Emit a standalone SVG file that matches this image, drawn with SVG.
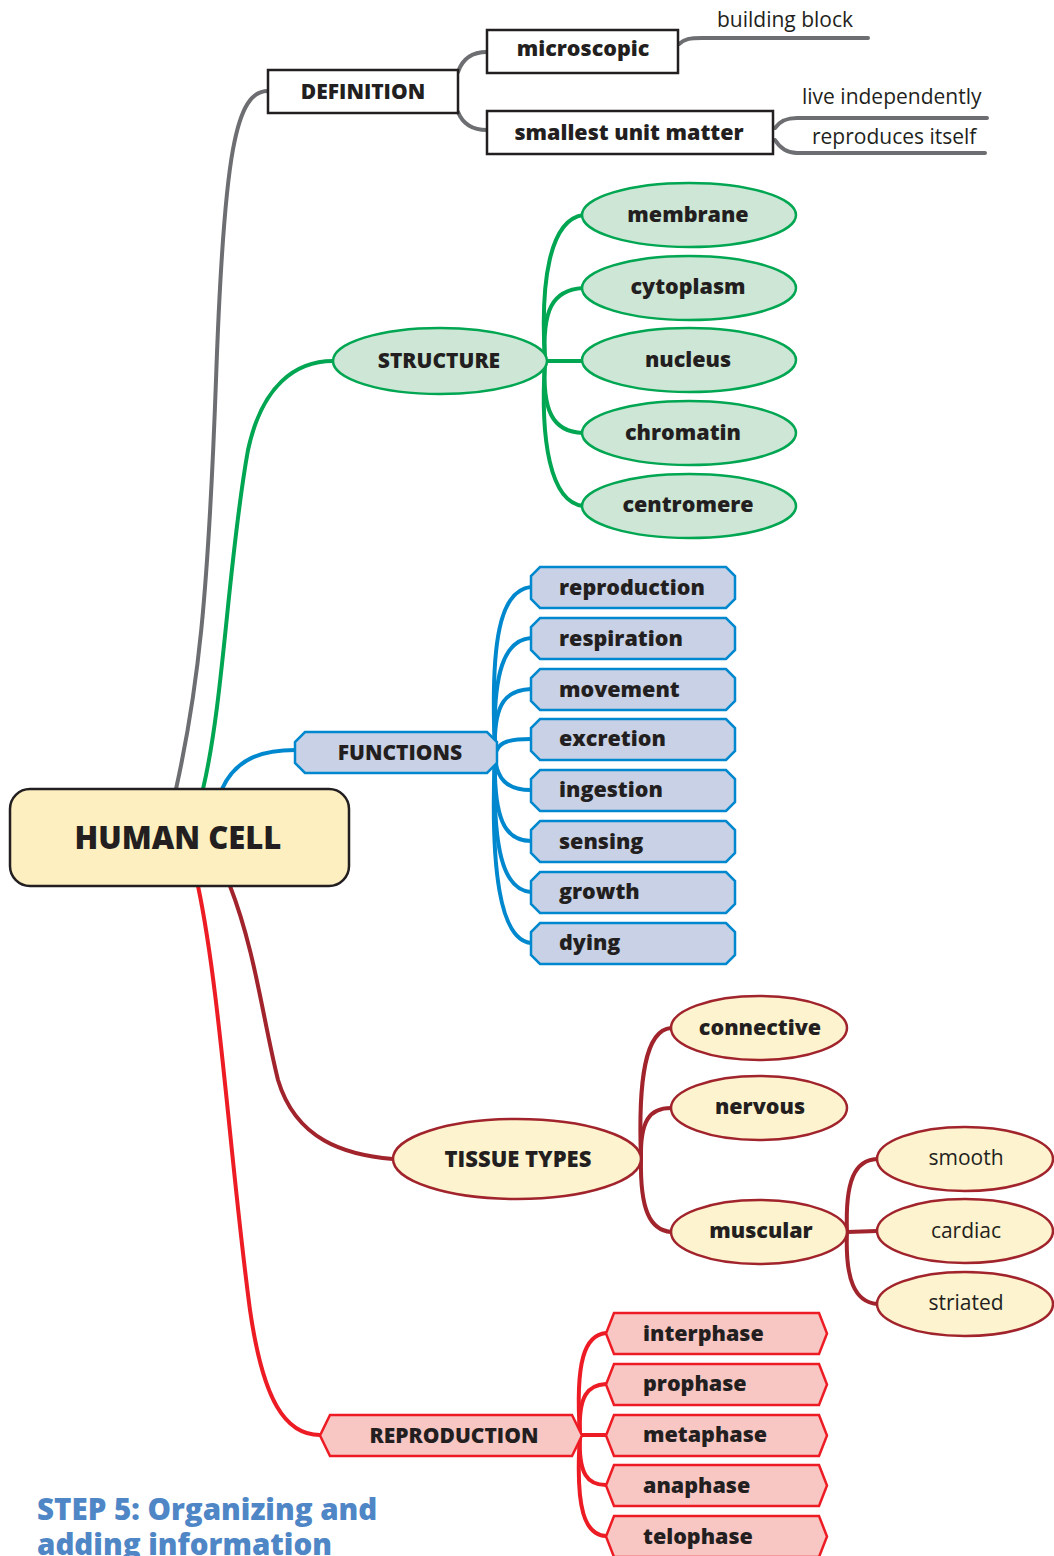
<svg xmlns="http://www.w3.org/2000/svg" width="1054" height="1556" viewBox="0 0 1054 1556">
  <style>
    .lbl { font-family: "Open Sans", "DejaVu Sans", sans-serif; font-weight: 800; fill: #231f20; font-size: 21.5px; }
    .cap { font-size: 21px; }
    .reg { font-family: "Open Sans", "DejaVu Sans", sans-serif; font-weight: 400; fill: #231f20; font-size: 21px; }
    .c { text-anchor: middle; }
    .con { fill: none; stroke-linecap: round; stroke-width: 4; }
    .gray { stroke: #6d6e71; }
    .green { stroke: #00a651; }
    .blue { stroke: #0088cf; }
    .dred { stroke: #a1232b; }
    .red { stroke: #ed1c24; }
    .box { fill: #ffffff; stroke: #231f20; stroke-width: 2.5; }
    .gEl { fill: #cde6d5; stroke: #00a651; stroke-width: 2.5; }
    .bHex { fill: #c8d1e5; stroke: #0088cf; stroke-width: 2.5; }
    .yEl { fill: #fdf3cf; stroke: #a1232b; stroke-width: 2.5; }
    .rHex { fill: #f8c6c3; stroke: #ed1c24; stroke-width: 2.5; }
  </style>
  <defs>
    <path id="octo" d="M9,0 H195 L204,9 V32 L195,41 H9 L0,32 V9 Z"/>
    <path id="chev" d="M8,0 H213 L221,20.5 L213,41 H8 L0,20.5 Z"/>
  </defs>

  <!-- connectors -->
  <g id="connectors">
    <!-- main branches -->
    <path class="con gray" d="M176,789 C198,690 208,600 216,380 C224,150 236,91 268,91"/>
    <path class="con green" d="M203,789 C224,700 228,560 248,450 C262,385 296,361 333,361"/>
    <path class="con blue" d="M222,789 C235,760 260,750 295,750"/>
    <path class="con dred" d="M230,886 C255,950 263,1020 278,1080 C296,1140 345,1155 393,1159"/>
    <path class="con red" d="M198,886 C220,990 230,1160 250,1310 C263,1400 285,1435 320,1435"/>

    <!-- definition -->
    <path class="con gray" stroke-width="5" d="M458,72 C462,60 470,52 487,52"/>
    <path class="con gray" stroke-width="5" d="M458,112 C462,122 470,130 487,130"/>
    <path class="con gray" stroke-width="2" d="M679,44 C684,39 690,38 702,38 H868"/>
    <path class="con gray" stroke-width="2" d="M775,128 C780,121 786,118 797,118 H987"/>
    <path class="con gray" stroke-width="2" d="M775,140 C780,148 786,153 797,153 H985"/>

    <!-- structure -->
    <path class="con green" d="M545,361 C540,280 550,220 583,215"/>
    <path class="con green" d="M545,361 C542,310 552,290 583,288"/>
    <path class="con green" d="M545,361 L583,361"/>
    <path class="con green" d="M545,361 C542,410 552,432 583,433"/>
    <path class="con green" d="M545,361 C540,440 550,502 583,506"/>

    <!-- functions -->
    <path class="con blue" d="M495,752 C490,640 500,590 531,587"/>
    <path class="con blue" d="M495,752 C492,670 505,640 531,638"/>
    <path class="con blue" d="M495,752 C493,700 508,690 531,689"/>
    <path class="con blue" d="M497,750 C500,742 510,739 531,739"/>
    <path class="con blue" d="M495,752 C495,780 508,790 531,790"/>
    <path class="con blue" d="M495,752 C493,820 505,841 531,841"/>
    <path class="con blue" d="M495,752 C492,850 503,890 531,892"/>
    <path class="con blue" d="M495,752 C490,870 500,940 531,943"/>

    <!-- tissue types -->
    <path class="con dred" d="M641,1159 C638,1080 645,1030 671,1028"/>
    <path class="con dred" d="M641,1159 C640,1120 650,1108 671,1108"/>
    <path class="con dred" d="M641,1159 C640,1210 650,1230 671,1232"/>
    <path class="con dred" d="M847,1232 C845,1180 855,1160 877,1159"/>
    <path class="con dred" stroke-width="5" d="M847,1232 L877,1231"/>
    <path class="con dred" d="M847,1232 C845,1280 855,1302 877,1304"/>

    <!-- reproduction -->
    <path class="con red" d="M580,1435 C575,1360 585,1335 606,1333"/>
    <path class="con red" d="M580,1435 C578,1395 588,1385 606,1384"/>
    <path class="con red" d="M582,1435 L606,1435"/>
    <path class="con red" d="M580,1435 C578,1475 588,1485 606,1485"/>
    <path class="con red" d="M580,1435 C575,1510 585,1535 606,1536"/>
  </g>

  <!-- central node -->
  <g id="human-cell">
    <rect x="10" y="789" width="339" height="97" rx="20" fill="#fdefbf" stroke="#231f20" stroke-width="2.5"/>
    <text class="lbl c" x="178" y="849" style="font-size:31px">HUMAN CELL</text>
  </g>

  <!-- definition branch -->
  <g id="definition">
    <rect class="box" x="268" y="70" width="190" height="43"/>
    <text class="lbl cap c" x="363" y="99">DEFINITION</text>
  </g>
  <g id="microscopic">
    <rect class="box" x="487" y="30" width="191" height="43"/>
    <text class="lbl c" x="583" y="56">microscopic</text>
  </g>
  <g id="smallest-unit-matter">
    <rect class="box" x="487" y="111" width="286" height="43"/>
    <text class="lbl c" x="629" y="140">smallest unit matter</text>
  </g>
  <g id="building-block"><text class="reg" x="717" y="27">building block</text></g>
  <g id="live-independently"><text class="reg" x="802" y="104">live independently</text></g>
  <g id="reproduces-itself"><text class="reg" x="812" y="144">reproduces itself</text></g>

  <!-- structure branch -->
  <g id="structure">
    <ellipse class="gEl" cx="440" cy="361" rx="107" ry="33"/>
    <text class="lbl cap c" x="439" y="368">STRUCTURE</text>
  </g>
  <g id="membrane">
    <ellipse class="gEl" cx="689" cy="215" rx="107" ry="32"/>
    <text class="lbl c" x="688" y="222">membrane</text>
  </g>
  <g id="cytoplasm">
    <ellipse class="gEl" cx="689" cy="288" rx="107" ry="32"/>
    <text class="lbl c" x="688" y="294">cytoplasm</text>
  </g>
  <g id="nucleus">
    <ellipse class="gEl" cx="689" cy="360" rx="107" ry="32"/>
    <text class="lbl c" x="688" y="367">nucleus</text>
  </g>
  <g id="chromatin">
    <ellipse class="gEl" cx="689" cy="433" rx="107" ry="32"/>
    <text class="lbl c" x="683" y="440">chromatin</text>
  </g>
  <g id="centromere">
    <ellipse class="gEl" cx="689" cy="506" rx="107" ry="32"/>
    <text class="lbl c" x="688" y="512">centromere</text>
  </g>

  <!-- functions branch -->
  <g id="functions">
    <path class="bHex" d="M305,732 H487 L497,742 V763 L487,773 H305 L295,763 V742 Z"/>
    <text class="lbl cap c" x="400" y="760">FUNCTIONS</text>
  </g>
  <g id="f-reproduction"><use href="#octo" class="bHex" x="531" y="567"/><text class="lbl" x="559" y="595">reproduction</text></g>
  <g id="f-respiration"><use href="#octo" class="bHex" x="531" y="618"/><text class="lbl" x="559" y="646">respiration</text></g>
  <g id="f-movement"><use href="#octo" class="bHex" x="531" y="669"/><text class="lbl" x="559" y="697">movement</text></g>
  <g id="f-excretion"><use href="#octo" class="bHex" x="531" y="719"/><text class="lbl" x="559" y="746">excretion</text></g>
  <g id="f-ingestion"><use href="#octo" class="bHex" x="531" y="770"/><text class="lbl" x="559" y="797">ingestion</text></g>
  <g id="f-sensing"><use href="#octo" class="bHex" x="531" y="821"/><text class="lbl" x="559" y="849">sensing</text></g>
  <g id="f-growth"><use href="#octo" class="bHex" x="531" y="872"/><text class="lbl" x="559" y="899">growth</text></g>
  <g id="f-dying"><use href="#octo" class="bHex" x="531" y="923"/><text class="lbl" x="559" y="950">dying</text></g>

  <!-- tissue types branch -->
  <g id="tissue-types">
    <ellipse class="yEl" cx="517" cy="1159" rx="124" ry="40"/>
    <text class="lbl c" x="518" y="1167" style="font-size:22px">TISSUE TYPES</text>
  </g>
  <g id="connective">
    <ellipse class="yEl" cx="759" cy="1028" rx="88" ry="32"/>
    <text class="lbl c" x="760" y="1035">connective</text>
  </g>
  <g id="nervous">
    <ellipse class="yEl" cx="759" cy="1108" rx="88" ry="32"/>
    <text class="lbl c" x="760" y="1114">nervous</text>
  </g>
  <g id="muscular">
    <ellipse class="yEl" cx="759" cy="1232" rx="88" ry="32"/>
    <text class="lbl c" x="761" y="1238">muscular</text>
  </g>
  <g id="smooth">
    <ellipse class="yEl" cx="965" cy="1159" rx="88" ry="32"/>
    <text class="reg c" x="966" y="1165">smooth</text>
  </g>
  <g id="cardiac">
    <ellipse class="yEl" cx="965" cy="1231" rx="88" ry="32"/>
    <text class="reg c" x="966" y="1238">cardiac</text>
  </g>
  <g id="striated">
    <ellipse class="yEl" cx="965" cy="1304" rx="88" ry="32"/>
    <text class="reg c" x="966" y="1310">striated</text>
  </g>

  <!-- reproduction branch -->
  <g id="reproduction">
    <path class="rHex" d="M330,1415 H572 L582,1435.5 L572,1456 H330 L320,1435.5 Z"/>
    <text class="lbl cap c" x="454" y="1443">REPRODUCTION</text>
  </g>
  <g id="interphase"><use href="#chev" class="rHex" x="606" y="1313"/><text class="lbl" x="643" y="1341">interphase</text></g>
  <g id="prophase"><use href="#chev" class="rHex" x="606" y="1364"/><text class="lbl" x="643" y="1391">prophase</text></g>
  <g id="metaphase"><use href="#chev" class="rHex" x="606" y="1415"/><text class="lbl" x="643" y="1442">metaphase</text></g>
  <g id="anaphase"><use href="#chev" class="rHex" x="606" y="1465"/><text class="lbl" x="643" y="1493">anaphase</text></g>
  <g id="telophase"><use href="#chev" class="rHex" x="606" y="1516"/><text class="lbl" x="643" y="1544">telophase</text></g>

  <!-- caption -->
  <g id="caption" font-family="'Open Sans', 'DejaVu Sans', sans-serif" font-weight="800" font-size="29.5" fill="#4f86c6">
    <text x="37" y="1520">STEP 5: Organizing and</text>
    <text x="37" y="1555">adding information</text>
  </g>
</svg>
